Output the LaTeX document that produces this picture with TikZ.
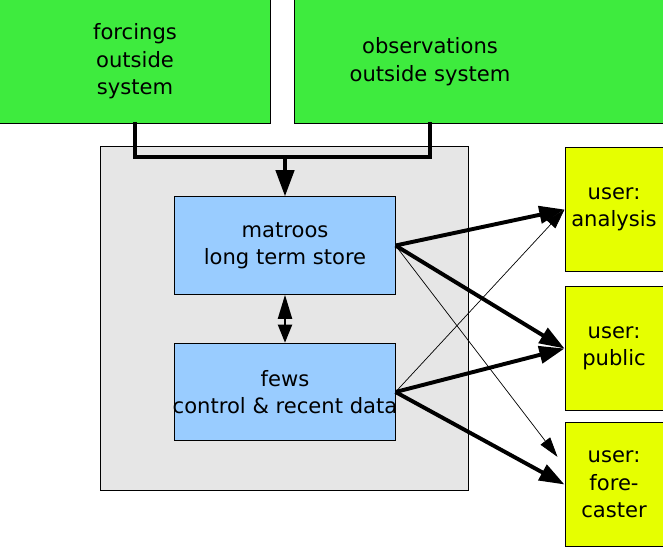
\documentclass[tikz,border=0pt]{standalone}
\usepackage{fontspec}
\setmainfont{DejaVu Sans}
\usepackage{xcolor}
\definecolor{srcgreen}{RGB}{62,235,62}
\definecolor{storeblue}{RGB}{153,204,255}
\definecolor{useryellow}{RGB}{230,255,0}
\definecolor{sysgrey}{RGB}{230,230,230}
\usetikzlibrary{arrows.meta,positioning}

\begin{document}
\begin{tikzpicture}[
  x=0.025cm, y=-0.025cm,
  anybox/.style={draw=black, line width=0.7pt, inner sep=0pt, align=center, font=\fontsize{15}{19.5}\selectfont},
  srcbox/.style={anybox, fill=srcgreen, minimum height=3.075cm},
  storebox/.style={anybox, fill=storeblue, minimum width=5.5cm, minimum height=2.44cm},
  userbox/.style={anybox, fill=useryellow, minimum width=2.45cm, minimum height=3.075cm},
  feed/.style={line width=2.8pt, line cap=rect},
  bigarrow/.style={-{Triangle[length=6.3mm,width=4.3mm]}, line width=2.8pt},
  thinarrow/.style={-{Triangle[length=5mm,width=3mm]}, line width=0.5pt},
  dblarrow/.style={{Triangle[length=4.5mm,width=3.5mm]}-{Triangle[length=6mm,width=3.5mm]}, line width=1.4pt}
]
\useasboundingbox (0,0) rectangle (663,546);

% system background
\node[anybox, fill=sysgrey, minimum width=9.175cm, minimum height=8.575cm] (sys) at (284.5,318.5) {};

% outside sources
\node[srcbox, minimum width=6.75cm] (forc) at (135,61.5) {forcings\\outside\\system};
\node[srcbox, minimum width=9.2cm, label={[font=\fontsize{15}{19.5}\selectfont, align=center, xshift=-1.225cm]center:observations\\outside system}] (obs) at (479,61.5) {};

% stores
\node[storebox] (mat) at (285,245.5) {matroos\\long term store};
\node[storebox] (fews) at (285,392) {fews\\\makebox[0pt]{control \& recent data}};

% users
\node[userbox] (ana) at (614,209.5) {user:\\analysis};
\node[userbox] (pub) at (614,348.5) {user:\\public};
\node[userbox] (fc) at (614,484.5) {user:\\fore-\\caster};

% inputs
\coordinate (mrg) at (285,157);
\draw[feed] (forc.south) |- (mrg) -| ([xshift=-1.225cm]obs.south);
\draw[line width=2.2pt, -{Triangle[length=6.5mm,width=4.6mm]}] (mrg) -- (mat.north);
\draw[dblarrow] (fews.north) -- (mat.south);

% outputs
\draw[bigarrow] (mat.east) -- (ana.west);
\draw[bigarrow] (mat.east) -- (pub.west);
\draw[thinarrow] (mat.east) -- ([shift={(-0.175cm,0.69cm)}]fc.west);
\draw[thinarrow] (fews.east) -- (ana.west);
\draw[bigarrow] (fews.east) -- (pub.west);
\draw[bigarrow] (fews.east) -- (fc.west);
\end{tikzpicture}
\end{document}
